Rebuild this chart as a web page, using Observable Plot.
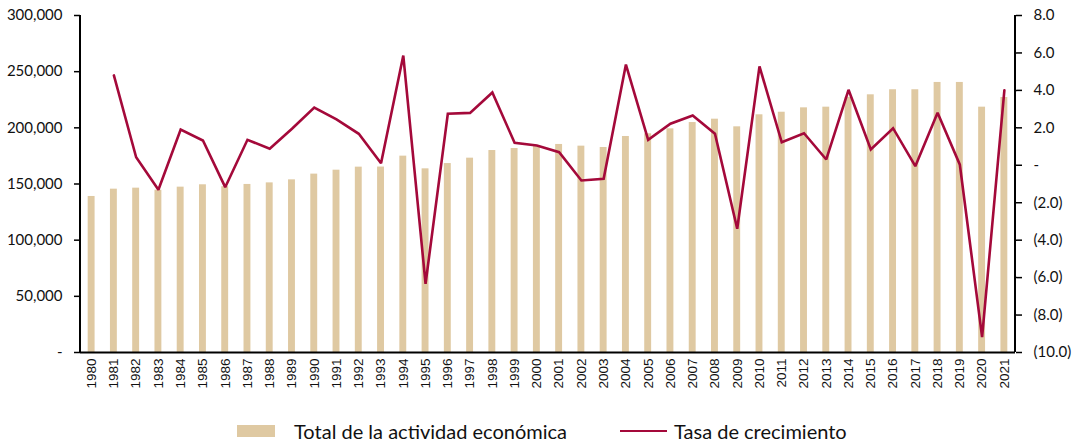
<!DOCTYPE html>
<html>
<head>
<meta charset="utf-8">
<script src="https://cdn.jsdelivr.net/npm/d3@7"></script>
<script src="https://cdn.jsdelivr.net/npm/@observablehq/plot@0.6"></script>
<style>
  body { margin: 0; background: #fff; }
  #chart svg { display: block; }
  #legend { position: relative; width: 1072px; height: 32px; font-family: Lato, "Open Sans", sans-serif; font-size: 20px; color: #111; }
  .item { position: absolute; top: 3px; height: 32px; display: flex; align-items: center; white-space: nowrap; }
  .sw-bar { width: 38px; height: 12px; background: #DFC9A2; margin-right: 19px; }
  .sw-line { width: 47px; height: 2.6px; background: #A4093A; margin-right: 7px; }
</style>
</head>
<body>
<div id="chart"></div>
<div id="legend">
  <div class="item" style="left:237px"><span class="sw-bar"></span><span>Total de la actividad económica</span></div>
  <div class="item" style="left:620px"><span class="sw-line"></span><span>Tasa de crecimiento</span></div>
</div>
<script>
const years = ["1980","1981","1982","1983","1984","1985","1986","1987","1988","1989",
  "1990","1991","1992","1993","1994","1995","1996","1997","1998","1999",
  "2000","2001","2002","2003","2004","2005","2006","2007","2008","2009",
  "2010","2011","2012","2013","2014","2015","2016","2017","2018","2019",
  "2020","2021"];

const totals = [138900,145400,146300,144500,147200,149300,147600,149600,151000,153700,
  158800,162300,165000,165100,174800,163500,168200,173000,179800,181600,
  183400,185200,183700,182500,192300,194700,199100,204700,207700,200900,
  211600,213900,217800,218400,227100,229400,233900,233900,240400,240400,
  218400,227000];

const growth = [null,4.8,0.43,-1.31,1.91,1.32,-1.17,1.36,0.88,1.95,
  3.08,2.45,1.68,0.11,5.86,-6.33,2.75,2.80,3.89,1.20,
  1.06,0.70,-0.81,-0.72,5.38,1.36,2.22,2.66,1.68,-3.39,
  5.28,1.23,1.71,0.31,4.03,0.84,1.98,-0.05,2.80,0.03,
  -9.18,4.00];

const leftTicks = [0,50000,100000,150000,200000,250000,300000];
const rightTicks = [-10,-8,-6,-4,-2,0,2,4,6,8];

const leftMax = 300000, rMin = -10, rMax = 8;
const gToY = g => (g - rMin) / (rMax - rMin) * leftMax;
const yToG = v => Math.round((v / leftMax * (rMax - rMin) + rMin) * 10) / 10;

const bars = years.map((y, i) => ({year: y, total: totals[i]}));
const lineData = years.map((y, i) => ({year: y, g: growth[i]})).filter(d => d.g !== null);

const fmtLeft = d => d === 0 ? "-" : d3.format(",")(d);
const fmtRight = v => {
  const g = yToG(v);
  if (g === 0) return "-";
  return g < 0 ? "(" + Math.abs(g).toFixed(1) + ")" : g.toFixed(1);
};

const axisFont = {fontFamily: "Lato, 'Open Sans', sans-serif", fontSize: 15};

const chart = Plot.plot({
  width: 1072,
  height: 412,
  marginTop: 15,
  marginBottom: 60,
  marginLeft: 80,
  marginRight: 57,
  style: {background: "#fff", color: "#111", overflow: "visible"},
  x: {type: "band", domain: years, paddingInner: 0.69, paddingOuter: 0.345, round: false},
  y: {domain: [0, leftMax]},
  marks: [
    Plot.barY(bars, {x: "year", y: "total", fill: "#DFC9A2"}),
    Plot.line(lineData, {x: "year", y: d => gToY(d.g), stroke: "#A4093A", strokeWidth: 2.6, strokeLinejoin: "miter", strokeMiterlimit: 2}),
    Plot.ruleY([0], {stroke: "#000", strokeWidth: 2}),
    Plot.axisY({anchor: "left", ticks: leftTicks, tickFormat: fmtLeft, tickSize: 6, tickPadding: 12, label: null, stroke: "#000", strokeWidth: 1.5, ...axisFont}),
    Plot.axisY({anchor: "right", ticks: rightTicks.map(gToY), tickFormat: fmtRight, tickSize: 6, tickPadding: 12, label: null, stroke: "#000", strokeWidth: 1.5, textAnchor: "start", ...axisFont}),
    Plot.axisX({tickRotate: -90, tickSize: 0, tickPadding: 6, label: null, fontFamily: "'Liberation Sans', Arial, sans-serif", fontSize: 13.5})
  ]
});

// vertical axis lines drawn from the plot's own scales
const xr = chart.scale("x").range;
const yr = chart.scale("y").range;
const svg = d3.select(chart);
[xr[0], xr[1]].forEach(x => {
  svg.append("line").attr("x1", x).attr("x2", x).attr("y1", yr[0]).attr("y2", yr[1])
    .attr("stroke", "#000").attr("stroke-width", 2);
});
document.getElementById("chart").appendChild(chart);
</script>
</body>
</html>
